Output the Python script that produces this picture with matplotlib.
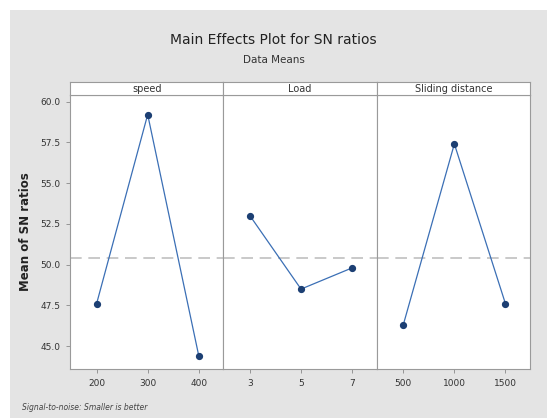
import matplotlib
matplotlib.use('Agg')
import matplotlib.pyplot as plt
from matplotlib.patches import Rectangle
import numpy as np

factors = ['speed', 'Load', 'Sliding distance']
levels = [['200', '300', '400'], ['3', '5', '7'], ['500', '1000', '1500']]
sn_means = [[47.6, 59.2, 44.4], [53.0, 48.5, 49.8], [46.3, 57.4, 47.6]]
y_ticks = [45.0, 47.5, 50.0, 52.5, 55.0, 57.5, 60.0]

grand_mean = np.mean(sn_means)

W, H = 547, 418
fig = plt.figure(figsize=(W / 100, H / 100), dpi=100, facecolor='white')
fig.patches.append(Rectangle((10 / W, 0), 1 - 10 / W, 1 - 10 / H, transform=fig.transFigure,
                             facecolor='#e4e4e4', edgecolor='none', zorder=-1))

x0, x1 = 70, 530
pw = (x1 - x0) / 3
bottom, top = 369, 95
strip_h = 13

for i, (name, labs, vals) in enumerate(zip(factors, levels, sn_means)):
    left = x0 + i * pw
    ax = fig.add_axes([left / W, 1 - bottom / H, pw / W, (bottom - top) / H])
    ax.set_facecolor('white')
    xs = np.arange(len(vals))
    ax.axhline(grand_mean, color='#c0c0c0', lw=1.2, ls=(0, (7, 4)), zorder=1)
    ax.plot(xs, vals, color='#3b6fb5', lw=0.9, zorder=2)
    ax.plot(xs, vals, 'o', color='#1c3f73', ms=4.2, zorder=3)
    ax.set_xlim(-0.52, 2.48)
    ax.set_ylim(43.6, 60.4)
    ax.set_xticks(xs)
    ax.set_xticklabels(labs, fontsize=6.5, color='#333333')
    ax.set_yticks(y_ticks)
    if i == 0:
        ax.set_yticklabels(['%.1f' % v for v in y_ticks], fontsize=6.5, color='#333333')
        ax.set_ylabel('Mean of SN ratios', fontsize=8.5, fontweight='bold', color='#222222', labelpad=6)
    else:
        ax.tick_params(axis='y', left=False, labelleft=False)
    ax.tick_params(axis='both', length=3, width=0.6, color='#888888', pad=4)
    for s in ax.spines.values():
        s.set_color('#9a9a9a')
        s.set_linewidth(0.8)

    sax = fig.add_axes([left / W, 1 - top / H, pw / W, strip_h / H])
    sax.set_facecolor('white')
    sax.set_xticks([])
    sax.set_yticks([])
    for s in sax.spines.values():
        s.set_color('#9a9a9a')
        s.set_linewidth(0.8)
    sax.text(0.5, 0.45, name, ha='center', va='center', fontsize=7, color='#333333',
             transform=sax.transAxes)

fig.text(0.5, 1 - 40 / H, 'Main Effects Plot for SN ratios', ha='center', va='center',
         fontsize=10, color='#222222')
fig.text(0.5, 1 - 60 / H, 'Data Means', ha='center', va='center', fontsize=7.5, color='#333333')
fig.text(22 / W, 1 - 408 / H, 'Signal-to-noise: Smaller is better', ha='left', va='center',
         fontsize=5.5, style='italic', color='#444444')

fig.savefig('out.png', dpi=100, facecolor=fig.get_facecolor())
